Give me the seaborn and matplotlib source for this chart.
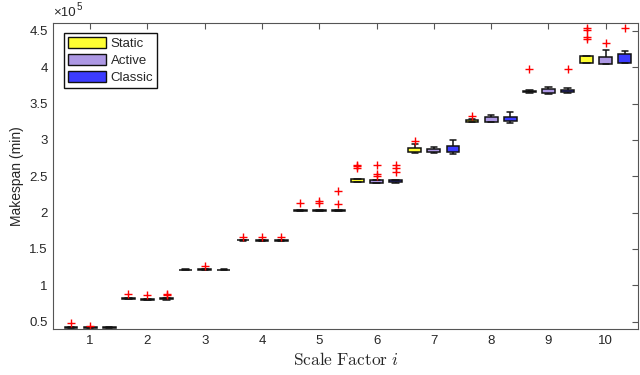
import pandas as pd
import seaborn as sns
import matplotlib.pyplot as plt
from matplotlib.patches import Patch

# Scale factors on the x axis and the three methods
factors = [str(i) for i in range(1, 11)]
methods = ["Static", "Active", "Classic"]
colors = ["#ffff33", "#ad98e4", "#3c3cff"]

# Box statistics (makespan in units of 1e5 min)
static_lo = [0.410, 0.806, 1.203, 1.614, 2.022, 2.420, 2.825, 3.245, 3.650, 4.055]
static_q1 = [0.412, 0.808, 1.205, 1.616, 2.024, 2.425, 2.830, 3.250, 3.655, 4.060]
static_med = [0.418, 0.814, 1.210, 1.621, 2.030, 2.440, 2.850, 3.265, 3.665, 4.100]
static_q3 = [0.424, 0.820, 1.216, 1.627, 2.036, 2.460, 2.885, 3.280, 3.675, 4.155]
static_hi = [0.426, 0.822, 1.218, 1.629, 2.038, 2.465, 2.950, 3.285, 3.680, 4.160]
static_out = [[0.485], [0.875], [], [1.662], [2.125], [2.62, 2.64, 2.66],
              [2.99], [3.335], [3.97], [4.39, 4.42, 4.51, 4.54]]

active_lo = [0.407, 0.799, 1.205, 1.611, 2.020, 2.405, 2.825, 3.245, 3.630, 4.045]
active_q1 = [0.409, 0.801, 1.207, 1.613, 2.022, 2.410, 2.835, 3.250, 3.640, 4.050]
active_med = [0.414, 0.807, 1.212, 1.618, 2.028, 2.425, 2.855, 3.275, 3.665, 4.090]
active_q3 = [0.420, 0.813, 1.219, 1.624, 2.034, 2.445, 2.880, 3.310, 3.695, 4.140]
active_hi = [0.422, 0.815, 1.221, 1.626, 2.036, 2.450, 2.905, 3.345, 3.730, 4.235]
active_out = [[0.445], [0.872], [1.262], [1.658], [2.135, 2.155], [2.505, 2.53, 2.65],
              [], [], [], [4.34]]

classic_lo = [0.410, 0.803, 1.203, 1.611, 2.017, 2.410, 2.810, 3.236, 3.650, 4.055]
classic_q1 = [0.412, 0.805, 1.205, 1.613, 2.019, 2.415, 2.840, 3.258, 3.657, 4.060]
classic_med = [0.418, 0.812, 1.210, 1.619, 2.025, 2.430, 2.870, 3.280, 3.668, 4.120]
classic_q3 = [0.424, 0.820, 1.216, 1.626, 2.032, 2.445, 2.920, 3.315, 3.685, 4.185]
classic_hi = [0.426, 0.826, 1.218, 1.629, 2.035, 2.450, 3.005, 3.380, 3.710, 4.230]
classic_out = [[], [0.86, 0.878], [], [1.66], [2.118, 2.29], [2.56, 2.62, 2.66],
               [], [], [3.97], [4.535]]

stats = {
    "Static": (static_lo, static_q1, static_med, static_q3, static_hi, static_out),
    "Active": (active_lo, active_q1, active_med, active_q3, active_hi, active_out),
    "Classic": (classic_lo, classic_q1, classic_med, classic_q3, classic_hi, classic_out),
}

# Expand each box into a sample whose quartiles/whiskers match the read values
rows = []
for m in methods:
    lo, q1, med, q3, hi, out = stats[m]
    for i, f in enumerate(factors):
        vals = [lo[i]] + [q1[i]] * 10 + [med[i]] * 10 + [q3[i]] * 10 + [hi[i]] + out[i]
        rows += [(f, m, v) for v in vals]
df = pd.DataFrame(rows, columns=["factor", "method", "makespan"])

sns.set_style("white")
plt.rcParams["font.family"] = ["Liberation Sans", "DejaVu Sans"]
plt.rcParams["mathtext.fontset"] = "cm"

fig, ax = plt.subplots(figsize=(6.4, 3.75), dpi=100)
fig.subplots_adjust(left=0.083, right=0.997, bottom=0.122, top=0.9395)

sns.boxplot(
    data=df, x="factor", y="makespan", hue="method", hue_order=methods,
    order=factors, palette=colors, saturation=1, width=1.0, gap=0.33,
    linecolor="#111111", linewidth=1.1,
    medianprops=dict(linewidth=0),
    flierprops=dict(marker="+", markeredgecolor="red", markersize=6, markeredgewidth=1.0),
    legend=False, ax=ax,
)

ax.set_xlim(-0.647, 9.565)
ax.set_ylim(0.394, 4.613)
ax.set_yticks([0.5, 1, 1.5, 2, 2.5, 3, 3.5, 4, 4.5])
ax.set_yticklabels([f"{v:g}" for v in ax.get_yticks()])

for s in ax.spines.values():
    s.set_visible(True)
    s.set_color("#555555")
    s.set_linewidth(0.8)
ax.tick_params(direction="in", top=True, right=True, length=4, width=0.8,
               color="#555555", labelcolor="#262626", labelsize=9.5, pad=4)

ax.set_ylabel("Makespan (min)", fontsize=10, color="#262626")
ax.set_xlabel(r"$\mathrm{Scale\ Factor}\ i$", fontsize=12.5, color="#262626", labelpad=3)

# exponent label above the y axis
ax.annotate("×10", xy=(0, 1), xycoords="axes fraction", xytext=(0, 3),
            textcoords="offset points", fontsize=9.5, color="#262626", ha="left", va="bottom")
ax.annotate("5", xy=(0, 1), xycoords="axes fraction", xytext=(17, 8),
            textcoords="offset points", fontsize=7, color="#262626", ha="left", va="bottom")

handles = [Patch(facecolor=c, edgecolor="#111111", label=m) for m, c in zip(methods, colors)]
ax.legend(handles=handles, loc="upper left", fancybox=False, edgecolor="#111111",
          framealpha=1, fontsize=9.5, handlelength=2.9, handleheight=0.9,
          labelspacing=0.3, handletextpad=0.35, borderpad=0.3, borderaxespad=0.8)

plt.savefig("out.png", dpi=100)
